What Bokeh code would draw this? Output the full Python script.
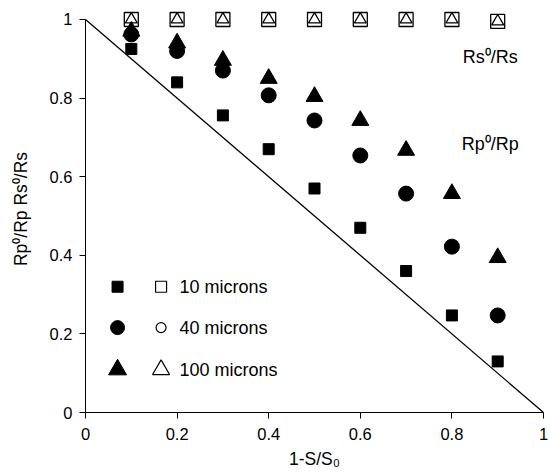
from bokeh.plotting import figure
from bokeh.models import Range1d
from bokeh.core.properties import value
from bokeh.embed import file_html
from bokeh.resources import INLINE

x = [0.1, 0.2, 0.3, 0.4, 0.5, 0.6, 0.7, 0.8, 0.9]
rp_10 = [0.925, 0.84, 0.756, 0.67, 0.57, 0.47, 0.36, 0.247, 0.13]
rp_40 = [0.962, 0.92, 0.87, 0.807, 0.743, 0.654, 0.557, 0.422, 0.247]
rp_100 = [0.97, 0.94, 0.896, 0.85, 0.804, 0.743, 0.667, 0.557, 0.394]
rs_10 = [1.0, 1.0, 1.0, 1.0, 1.0, 1.0, 1.0, 1.0, 0.995]
rs_100 = [1.0, 1.0, 1.0, 1.0, 1.0, 1.0, 1.0, 1.0, 0.995]
diag_x = [0.0, 1.0]
diag_y = [1.0, 0.0]
legend_labels = ["10 microns", "40 microns", "100 microns"]
legend_y = [0.32, 0.216, 0.109]
ticks = [0, 0.2, 0.4, 0.6, 0.8, 1]

FONT = "Liberation Sans"

p = figure(width=550, height=472, output_backend="svg", toolbar_location=None,
           x_range=Range1d(0, 1), y_range=Range1d(0, 1.0356),
           min_border_left=85, min_border_right=7, min_border_top=5, min_border_bottom=60)
p.outline_line_color = None
p.xgrid.visible = False
p.ygrid.visible = False
p.background_fill_color = "white"

for ax in (p.xaxis, p.yaxis):
    ax.ticker = ticks
    ax.bounds = (0, 1)
    ax.major_tick_in = 0
    ax.major_tick_out = 6
    ax.minor_tick_line_color = None
    ax.axis_line_color = "black"
    ax.major_tick_line_color = "black"
    ax.major_label_text_font = FONT
    ax.major_label_text_font_size = "16.5px"
    ax.major_label_text_color = "black"
    ax.axis_label_text_font = FONT
    ax.axis_label_text_font_size = "17.5px"
    ax.axis_label_text_font_style = "normal"
    ax.axis_label_text_color = "black"
p.xaxis.major_label_overrides = {0: "0", 1: "1"}
p.yaxis.major_label_overrides = {0: "0", 1: "1"}
p.xaxis.axis_label = "1-S/S\u2080"
p.yaxis.axis_label = "Rp\u2070/Rp Rs\u2070/Rs"
p.xaxis.major_label_standoff = 9
p.yaxis.major_label_standoff = 7
p.xaxis.axis_label_standoff = 6
p.yaxis.axis_label_standoff = 16

p.line(diag_x, diag_y, line_color="black", line_width=1.3)

p.scatter(x, rp_10, marker="square", size=11, fill_color="black", line_color="black")
p.scatter(x, rp_40, marker="circle", size=15, fill_color="black", line_color="black")
p.scatter(x, rp_100, marker="triangle", size=17, fill_color="black", line_color="black")
p.scatter(x, rs_10, marker="square", size=14, fill_color=None, line_color="black", line_width=1.3)
p.scatter(x, rs_100, marker="triangle", size=12, fill_color=None, line_color="black", line_width=1.3)

# legend (manual)
lx_filled = [0.07] * 3
lx_open = [0.165] * 3
p.scatter(lx_filled[:1], legend_y[:1], marker="square", size=11, fill_color="black", line_color="black")
p.scatter(lx_filled[1:2], legend_y[1:2], marker="circle", size=14, fill_color="black", line_color="black")
p.scatter(lx_filled[2:], legend_y[2:], marker="triangle", size=18, fill_color="black", line_color="black")
p.scatter(lx_open[:1], legend_y[:1], marker="square", size=11, fill_color=None, line_color="black", line_width=1.2)
p.scatter(lx_open[1:2], legend_y[1:2], marker="circle", size=10, fill_color=None, line_color="black", line_width=1.2)
p.scatter(lx_open[2:], legend_y[2:], marker="triangle", size=17, fill_color=None, line_color="black", line_width=1.2)
p.text(x=[0.205] * 3, y=legend_y, text=legend_labels, text_font=value(FONT),
       text_font_size="18px", text_baseline="middle", text_align="left", text_color="black")

p.text(x=[0.884, 0.884], y=[0.905, 0.684], text=["Rs\u2070/Rs", "Rp\u2070/Rp"],
       text_font=value(FONT), text_font_size="18px", text_baseline="middle",
       text_align="center", text_color="black")

open("out.html", "w").write(file_html(p, INLINE))
